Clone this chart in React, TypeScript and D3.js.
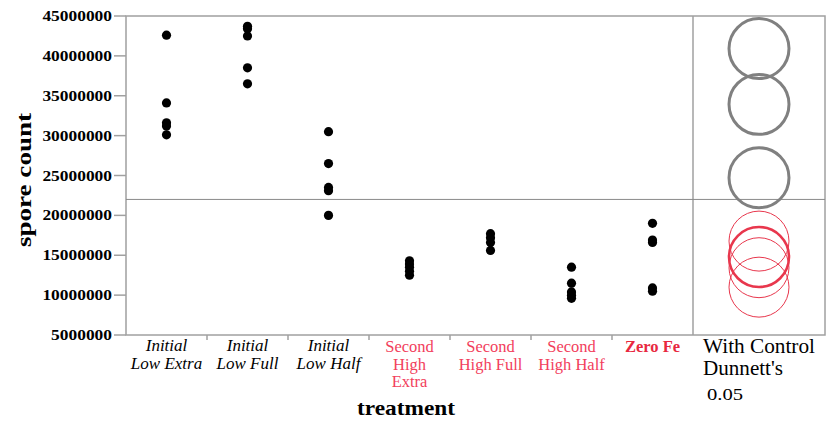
import React from "react";
import * as d3 from "d3";

const categories = [
  "Initial Low Extra",
  "Initial Low Full",
  "Initial Low Half",
  "Second High Extra",
  "Second High Full",
  "Second High Half",
  "Zero Fe",
];
const labelLines = [
  ["Initial", "Low Extra"],
  ["Initial", "Low Full"],
  ["Initial", "Low Half"],
  ["Second", "High", "Extra"],
  ["Second", "High Full"],
  ["Second", "High Half"],
  ["Zero Fe"],
];
const labelKind = ["ok", "ok", "ok", "sig", "sig", "sig", "control"];

const sporeCounts: number[][] = [
  [42600000, 34100000, 31600000, 31200000, 30100000],
  [43700000, 43400000, 42500000, 38500000, 36500000],
  [30500000, 26500000, 23500000, 23100000, 20000000],
  [14300000, 13900000, 13500000, 13000000, 12500000],
  [17700000, 17200000, 16600000, 15600000],
  [13500000, 11500000, 10400000, 10000000, 9600000],
  [19000000, 16900000, 16600000, 10900000, 10500000],
];
const yTicks = [5000000, 10000000, 15000000, 20000000, 25000000, 30000000, 35000000, 40000000, 45000000];
const referenceLine = 22000000;
const circleRadiusValue = 3760000;

const W = 827;
const H = 422;
const left = 126;
const right = 693;
const panelRight = 825;
const top = 16;
const bottom = 335;

const frameColor = "#a0a0a0";
const sigColor = "#f2405c";
const controlColor = "#e8283f";
const circleRed = "#e8374d";

export default function App() {
  const y = d3.scaleLinear().domain([5000000, 45000000]).range([bottom, top]);
  const x = d3.scaleBand().domain(categories).range([left, right]);
  const panelCx = 759;
  const rPx = y(0) - y(circleRadiusValue);
  const means = sporeCounts.map((v) => d3.mean(v) as number);

  return (
    <svg width={W} height={H} style={{ position: "absolute", left: 0, top: 0 }} fontFamily="'Liberation Serif', 'Times New Roman', serif">
      <rect x={0} y={0} width={W} height={H} fill="#fff" />
      {/* frames */}
      <rect x={left} y={top} width={panelRight - left} height={bottom - top} fill="none" stroke={frameColor} strokeWidth={1.5} />
      <line x1={right} x2={right} y1={top} y2={bottom} stroke={frameColor} strokeWidth={1.5} />
      <line x1={left} x2={panelRight} y1={y(referenceLine)} y2={y(referenceLine)} stroke="#8a8a8a" strokeWidth={1} />

      {/* y axis */}
      {yTicks.map((t) => (
        <g key={t}>
          <line x1={114} x2={left} y1={y(t)} y2={y(t)} stroke={frameColor} strokeWidth={1.5} />
          <text x={112} y={y(t) + 5} textAnchor="end" fontWeight="bold" fontSize={15} textLength={d3.format("d")(t).length * 8.7} lengthAdjust="spacingAndGlyphs" fill="#000">
            {d3.format("d")(t)}
          </text>
        </g>
      ))}
      <text transform={`translate(31,180) rotate(-90)`} textAnchor="middle" fontWeight="bold" fontSize={22} textLength={134} lengthAdjust="spacingAndGlyphs">
        spore count
      </text>

      {/* x ticks */}
      {categories.slice(1).map((c) => (
        <line key={c} x1={x(c)} x2={x(c)} y1={bottom} y2={bottom + 5} stroke={frameColor} strokeWidth={1.5} />
      ))}
      {categories.map((c, i) => {
        const kind = labelKind[i];
        const lines = labelLines[i];
        const xc = (x(c) as number) + x.bandwidth() / 2;
        const step = kind === "ok" ? 18 : 17.5;
        return (
          <g key={c}>
            {lines.map((l, j) => (
              <text
                key={j}
                x={xc}
                y={(kind === "ok" ? 351 : 352) + j * step}
                textAnchor="middle"
                fontSize={kind === "ok" ? 17 : 16.5}
                fontStyle={kind === "ok" ? "italic" : "normal"}
                fontWeight={kind === "control" ? "bold" : "normal"}
                fill={kind === "ok" ? "#000" : kind === "sig" ? sigColor : controlColor}
              >
                {l}
              </text>
            ))}
          </g>
        );
      })}
      <text x={406} y={415} textAnchor="middle" fontWeight="bold" fontSize={22} textLength={98} lengthAdjust="spacingAndGlyphs">
        treatment
      </text>

      {/* points */}
      {sporeCounts.map((vals, i) =>
        vals.map((v, j) => (
          <circle key={`${i}-${j}`} cx={(x(categories[i]) as number) + x.bandwidth() / 2} cy={y(v)} r={4.6} fill="#000" />
        ))
      )}

      {/* comparison circles */}
      {means.map((m, i) => {
        const kind = labelKind[i];
        return (
          <circle
            key={i}
            cx={panelCx}
            cy={y(m)}
            r={rPx}
            fill="none"
            stroke={kind === "ok" ? "#808080" : circleRed}
            strokeWidth={kind === "ok" ? 3 : kind === "control" ? 2.6 : 1}
          />
        );
      })}

      {/* panel labels */}
      <text x={703} y={353} fontSize={20} fill="#000" textLength={112} lengthAdjust="spacingAndGlyphs">With Control</text>
      <text x={703} y={375} fontSize={20} fill="#000" textLength={80} lengthAdjust="spacingAndGlyphs">Dunnett's</text>
      <text x={707} y={400} fontSize={17} fill="#000" textLength={36} lengthAdjust="spacingAndGlyphs">0.05</text>
    </svg>
  );
}
